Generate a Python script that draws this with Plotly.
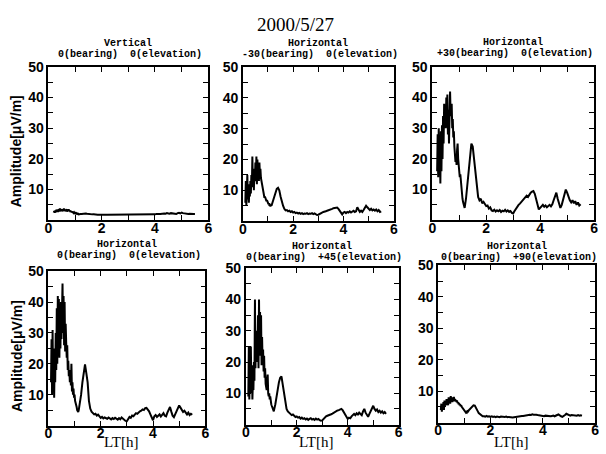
import numpy as np
import plotly.graph_objects as go

# ---------------- data ----------------
# dense sampling 0.10..1.20 h (step 0.02), sparse 1.25..5.50 h (step 0.05)
LT_DENSE = [round(0.10 + 0.02 * i, 2) for i in range(56)]
LT_SPARSE = [round(1.25 + 0.05 * i, 2) for i in range(86)]
LT = LT_DENSE + LT_SPARSE

N = None
V_0_0 = [  # Vertical, 0 bearing, 0 elevation
    N, N, N, N, N, 2.5, 3.0, 2.4, 3.2, 2.6,
    3.4, 2.8, 3.5, 2.7, 3.0, 3.6, 2.8, 3.8, 3.0, 3.4,
    3.6, 2.9, 3.4, 3.0, 3.8, 3.1, 3.5, 2.9, 3.3, 3.6,
    2.8, 3.4, 3.0, 3.6, 2.9, 3.2, 2.7, 3.0, 2.6, 2.9,
    2.5, 2.8, 2.4, 2.6, 2.3, 2.4, 2.2, 2.3, 2.1, 2.2,
    2.0, 2.1, 1.9, 2.0, 1.9, 2.0,
    2.0, 2.1, 2.0, 2.2, 2.1, 2.0, 1.9, 2.0, 1.9, 1.9,
    1.8, 1.9, 1.8, 1.8, 1.9, 1.8, 1.8, 1.7, 1.8, 1.8,
    1.8, 1.7, 1.8, 1.8, 1.7, 1.8, 1.7, 1.8, 1.8, 1.7,
    1.8, 1.7, 1.7, 1.8, 1.7, 1.7, 1.8, 1.7, 1.8, 1.8,
    1.8, 1.8, 1.9, 1.8, 1.8, 1.9, 1.8, 1.9, 1.9, 1.8,
    1.9, 1.8, 1.9, 1.8, 1.9, 1.9, 2.0, 1.9, 2.0, 2.0,
    2.1, 2.0, 2.2, 2.1, 2.3, 2.2, 2.1, 2.3, 2.2, 2.1,
    2.2, 2.0, 2.3, 2.4, 2.2, 2.5, 2.3, 2.2, 2.1, 2.2,
    2.0, 2.1, 2.0, 2.1, 2.0, 2.0,
]
H_M30_0 = [  # Horizontal, -30 bearing, 0 elevation
    6, 13, 5, 10, 15, 7, 12, 6, 11, 8,
    13, 9, 15, 11, 21, 12, 17, 10, 16, 13,
    19, 14, 21, 12, 20, 15, 18, 13, 19, 15,
    17, 14, 13, 12, 11, 10, 9, 8.5, 7.6, 8,
    7, 7.5, 6.5, 6.8, 6, 6.2, 5.5, 5.8, 5, 5.2,
    4.8, 5.4, 5, 5.6, 5.5, 6.5,
    7.5, 9, 10.5, 10.8, 10, 8, 6, 5, 4, 3.5,
    3.6, 3.2, 3.4, 3.0, 3.2, 2.8, 3.0, 2.6, 2.8, 2.5,
    2.7, 2.4, 2.6, 2.3, 2.5, 2.4, 2.6, 2.3, 2.5, 2.4,
    2.6, 2.3, 2.5, 2.2, 2.0, 2.1, 2.4, 2.6, 2.8, 3.0,
    3.0, 3.2, 3.4, 3.5, 3.8, 3.7, 4.0, 4.2, 4.3, 4.5,
    4.4, 4.0, 3.5, 2.8, 2.2, 2.8, 3.0, 2.6, 3.0, 2.8,
    3.2, 2.8, 3.0, 3.4, 3.0, 3.2, 4.5, 3.8, 3.0, 3.4,
    3.0, 3.6, 4.2, 5.0, 4.5, 4.0, 3.6, 4.0, 3.5, 3.8,
    3.4, 3.8, 3.2, 3.6, 3.0, 3.2,
]
H_P30_0 = [  # Horizontal, +30 bearing, 0 elevation
    N, N, N, N, 16, 28, 14, 30, 18, 26,
    12, 29, 16, 31, 20, 34, 25, 38, 30, 36,
    30, 40, 33, 41, 28, 36, 25, 38, 42, 35,
    34, 38, 30, 33, 27, 29, 24, 22, 19, 21,
    18, 23, 25, 20, 18, 16, 14, 15, 12, 10,
    9, 7, 6, 5, 4.5, 4,
    7, 12, 17, 22, 25, 24, 20, 14, 10, 7.6,
    6.5, 7, 5.5, 6, 5.3, 4.6, 4.8, 3.8, 4.2, 3.2,
    3.0, 3.4, 2.8, 3.2, 2.9, 3.3, 2.7, 3.1, 2.9, 3.4,
    2.8, 3.2, 2.7, 3.0, 2.4, 2.2, 3.0, 3.8, 4.2, 5.0,
    5.4, 6.0, 6.5, 7.0, 7.4, 8.0, 7.6, 8.5, 9.0, 9.3,
    9.5, 8.6, 7.0, 5.0, 3.5, 4.0, 4.6, 5.0, 4.4, 4.8,
    4.2, 4.6, 5.0, 4.5, 5.2, 6.5, 8.0, 9.0, 7.0, 5.0,
    4.0, 5.0, 6.8, 8.5, 10.0, 9.0, 7.5, 6.5, 5.8, 6.5,
    5.5, 6.2, 5.0, 5.8, 4.8, 5.2,
]
H_0_0 = [  # Horizontal, 0 bearing, 0 elevation
    14, 28, 10, 31, 12, 25, 9, 22, 14, 30,
    18, 38, 20, 42, 24, 41, 22, 36, 25, 40,
    28, 44, 46, 30, 42, 26, 40, 24, 33, 27,
    22, 26, 18, 21, 16, 18, 14, 17, 13, 20,
    11, 14, 10, 12, 9, 10, 8, 7.5, 6.5, 6,
    5, 4.5, 4.4, 5, 6, 7.5,
    10, 14, 18, 19.8, 17, 14, 8, 5.5, 4.5, 4,
    3.6, 3.8, 3.2, 3.5, 3, 2.5, 2.8, 2.3, 2.6, 2.4,
    2.2, 2.6, 2.3, 2.0, 2.4, 2.1, 2.5, 2.2, 1.9, 2.4,
    2.0, 2.6, 2.2, 1.9, 1.5, 1.4, 2.0, 2.8, 2.5, 3.2,
    3.0, 3.6, 4.0, 3.8, 4.4, 4.6, 4.8, 5.2, 5.0, 5.6,
    5.7, 5.2, 4.6, 3.6, 2.5, 1.7, 3.0, 3.4, 2.8, 3.2,
    3.6, 2.9, 3.3, 4.0, 3.2, 3.0, 4.2, 5.2, 6.0, 4.5,
    3.2, 2.7, 3.8, 4.6, 5.5, 6.5, 5.8, 5.0, 4.4, 4.8,
    4.0, 3.6, 4.2, 3.4, 3.8, 3.5,
]
H_0_P45 = [  # Horizontal, 0 bearing, +45 elevation
    9, 25, 8, 20, 12, 25, 10, 19, 8, 14,
    11, 20, 14, 40, 18, 30, 20, 26, 22, 35,
    18, 40, 22, 36, 25, 35, 19, 28, 20, 24,
    17, 22, 15, 18, 13, 12, 11, 14, 16, 10,
    9, 10, 8, 9, 7, 6.5, 6, 5.5, 5, 4.6,
    4.2, 5, 5.5, 6.5, 7.5, 9,
    11, 13.5, 15, 15.4, 13, 10, 7, 5, 4.2, 3.6,
    3.4, 3.0, 3.2, 2.8, 2.4, 2.6, 2.2, 2.4, 1.9, 2.2,
    1.8, 2.0, 1.6, 1.9, 1.5, 1.8, 2.0, 1.6, 1.8, 1.5,
    1.9, 1.6, 1.8, 1.4, 1.2, 1.3, 1.8, 2.2, 2.6, 2.8,
    2.9, 3.0, 3.3, 3.5, 3.8, 4.0, 4.2, 4.5, 4.6, 4.8,
    5.0, 4.6, 4.0, 3.2, 2.4, 1.8, 2.2, 2.0, 2.6, 3.0,
    3.4, 3.0, 3.6, 3.2, 3.8, 3.4, 3.0, 4.2, 5.0, 3.8,
    3.0, 2.5, 3.4, 4.2, 5.2, 6.0, 5.0, 4.4, 4.8, 4.0,
    4.4, 3.8, 4.2, 3.6, 4.0, 3.4,
]
H_0_P90 = [  # Horizontal, 0 bearing, +90 elevation
    4, 6, 3.5, 5.5, 4.5, 6.5, 4, 7, 5, 6.5,
    5.5, 7.5, 6, 7, 5.5, 8, 6.5, 7.5, 6, 8.4,
    7, 8, 6.5, 7.8, 7, 8.2, 6.8, 7.5, 7, 7.2,
    6.5, 7, 6.2, 6.5, 5.8, 6.2, 5.5, 5.8, 5.2, 5.5,
    5, 4.8, 4.5, 4.2, 4.0, 3.8, 3.5, 3.6, 3.2, 3.4,
    3.2, 3.5, 3.3, 3.8, 4.0, 4.4,
    4.8, 5.2, 5.5, 5.4, 4.8, 3.8, 3.0, 2.6, 2.2, 2.0,
    2.0, 1.9, 2.1, 1.9, 2.0, 1.8, 2.0, 1.8, 1.9, 1.7,
    1.9, 1.8, 1.7, 1.9, 1.8, 1.7, 1.8, 1.9, 1.7, 1.8,
    1.7, 1.8, 1.6, 1.7, 1.8, 1.7, 1.8, 1.9, 2.0, 2.1,
    2.1, 2.2, 2.3, 2.2, 2.4, 2.5, 2.4, 2.6, 2.5, 2.6,
    2.5, 2.4, 2.3, 2.2, 2.0, 2.1, 2.0, 2.2, 2.1, 2.0,
    2.1, 2.0, 2.1, 2.2, 2.0, 2.1, 2.4, 2.6, 2.2, 2.0,
    1.8, 2.0, 2.4, 2.8, 2.6, 2.4, 2.2, 2.4, 2.3, 2.2,
    2.3, 2.2, 2.4, 2.2, 2.3, 2.2,
]

SERIES = [V_0_0, H_M30_0, H_P30_0, H_0_0, H_0_P45, H_0_P90]
POLARIZATION = ["Vertical", "Horizontal", "Horizontal",
                "Horizontal", "Horizontal", "Horizontal"]
BEARING = ["0", "-30", "+30", "0", "0", "0"]
ELEVATION = ["0", "0", "0", "0", "+45", "+90"]
X_TICKS = [0, 2, 4, 6]
Y_TICKS = [10, 20, 30, 40, 50]
TITLE = "2000/5/27"

# ---------------- layout (pixels) ----------------
W, H = 606, 454
# panel boxes: (left, right, top, bottom) in pixels
BOX = [(45, 207, 60, 216), (242, 395, 60, 217), (434, 598, 60, 216),
       (45, 204, 268, 425), (245, 400, 265, 424), (440, 599, 262, 422)]
TITLE_Y = [36, 36, 35, 241, 243, 243]

fig = go.Figure()
ann = []
BLACK = "#000000"

# pull x tick labels closer to the axis if supported
X_EXTRA = {}
try:
    go.layout.XAxis(ticklabelstandoff=-6)
    X_EXTRA = dict(ticklabelstandoff=-6)
except Exception:
    X_EXTRA = {}

for i, vals in enumerate(SERIES):
    k = "" if i == 0 else str(i + 1)
    l, r, t, b = BOX[i]
    x = LT[:len(vals)]
    fig.add_trace(go.Scatter(x=x, y=vals, mode="lines",
                             line=dict(color=BLACK, width=2),
                             xaxis="x" + k, yaxis="y" + k, showlegend=False,
                             connectgaps=False, hoverinfo="skip"))
    common = dict(showgrid=False, zeroline=False, showline=True,
                  linecolor=BLACK, linewidth=1.6, mirror="allticks",
                  ticks="inside", ticklen=5, tickwidth=1.4, tickcolor=BLACK,
                  tickfont=dict(family="Liberation Sans", size=14,
                                color=BLACK, weight="bold"))
    fig.layout["xaxis" + k] = dict(
        common, domain=[l / W, r / W], range=[0, 6], tickvals=X_TICKS,
        anchor="y" + k, **X_EXTRA,
        minor=dict(dtick=1, ticks="inside", ticklen=5, tickcolor=BLACK))
    fig.layout["yaxis" + k] = dict(
        common, domain=[1 - b / H, 1 - t / H], range=[0, 50],
        tickvals=Y_TICKS, anchor="x" + k,
        minor=dict(dtick=5, ticks="inside", ticklen=5, tickcolor=BLACK))
    # panel titles
    cx = (l + r) / 2
    ty = TITLE_Y[i]
    ann.append(dict(x=cx / W, y=1 - ty / H, xref="paper", yref="paper",
                    text=POLARIZATION[i], showarrow=False,
                    xanchor="center", yanchor="middle",
                    font=dict(family="Liberation Mono", size=10,
                              color=BLACK, weight="bold")))
    ann.append(dict(x=(cx + 2) / W, y=1 - (ty + 11) / H, xref="paper",
                    yref="paper",
                    text=f"{BEARING[i]}(bearing)  {ELEVATION[i]}(elevation)",
                    showarrow=False, xanchor="center", yanchor="middle",
                    font=dict(family="Liberation Mono", size=10,
                              color=BLACK, weight="bold")))
    if i >= 3:
        ann.append(dict(x=(cx - 6) / W, y=1 - 442 / H, xref="paper",
                        yref="paper", text="LT[h]", showarrow=False,
                        xanchor="center", yanchor="middle",
                        font=dict(family="Liberation Serif", size=15,
                                  color=BLACK)))
    if i in (0, 3):
        ann.append(dict(x=13 / W, y=1 - ((t + b) / 2 + 8) / H, xref="paper",
                        yref="paper", text="Amplitude[μV/m]", textangle=-90,
                        showarrow=False, xanchor="center", yanchor="middle",
                        font=dict(family="Liberation Sans", size=14,
                                  color=BLACK, weight="bold")))

ann.append(dict(x=295 / W, y=1 - 17 / H, xref="paper", yref="paper",
                text=TITLE, showarrow=False, xanchor="center",
                yanchor="middle",
                font=dict(family="Liberation Serif", size=19, color=BLACK)))

fig.update_layout(width=W, height=H, margin=dict(l=0, r=0, t=0, b=0),
                  paper_bgcolor="white", plot_bgcolor="white",
                  annotations=ann)
fig.write_html("out.html", config={"displayModeBar": False},
               post_script="document.body.style.margin='0';"
                           "document.body.style.overflow='hidden';")
